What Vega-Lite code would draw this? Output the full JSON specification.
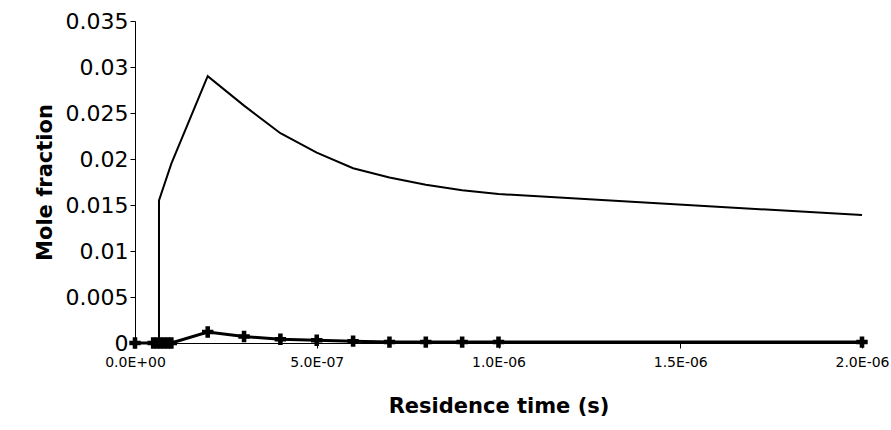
{
  "$schema": "https://vega.github.io/schema/vega-lite/v6.json",
  "width": 891, "height": 430,
  "autosize": {"type": "fit", "contains": "padding"},
  "padding": {"left": 34, "top": 10, "right": 2, "bottom": 14},
  "config": {"font": "DejaVu Sans", "view": {"stroke": null}},
  "datasets": {
    "main": [
      {"t": 0, "y": 0}, {"t": 5e-8, "y": 0}, {"t": 6.6e-8, "y": 0}, {"t": 6.6e-8, "y": 0.0155},
      {"t": 1e-7, "y": 0.0195}, {"t": 2e-7, "y": 0.029}, {"t": 3e-7, "y": 0.0258},
      {"t": 4e-7, "y": 0.0228}, {"t": 5e-7, "y": 0.0207}, {"t": 6e-7, "y": 0.019},
      {"t": 7e-7, "y": 0.018}, {"t": 8e-7, "y": 0.0172}, {"t": 9e-7, "y": 0.0166},
      {"t": 1e-6, "y": 0.0162}, {"t": 2e-6, "y": 0.0139}
    ],
    "minor": [
      {"t": 0, "y": 0}, {"t": 5e-8, "y": 0}, {"t": 6e-8, "y": 0}, {"t": 7e-8, "y": 0},
      {"t": 8e-8, "y": 0}, {"t": 9e-8, "y": 0}, {"t": 1e-7, "y": 0},
      {"t": 2e-7, "y": 0.0012}, {"t": 3e-7, "y": 0.0007}, {"t": 4e-7, "y": 0.0004},
      {"t": 5e-7, "y": 0.0003}, {"t": 6e-7, "y": 0.0002}, {"t": 7e-7, "y": 0.0001},
      {"t": 8e-7, "y": 0.0001}, {"t": 9e-7, "y": 0.0001}, {"t": 1e-6, "y": 0.0001},
      {"t": 2e-6, "y": 0.0001}
    ]
  },
  "encoding": {
    "x": {"field": "t", "type": "quantitative",
      "scale": {"domain": [0, 2e-6], "nice": false},
      "axis": {"title": "Residence time (s)", "labelExpr": "datum.value == 0 ? '0.0E+00' : replace(format(datum.value, '.1e'), 'e-', 'E-0')", "values": [0, 5e-7, 1e-6, 1.5e-6, 2e-6],
        "labelFlush": false, "labelPadding": 7, "grid": false, "labelFontSize": 14, "titleFontSize": 21, "titleFontWeight": "bold", "titlePadding": 26,
        "domainColor": "black", "tickColor": "black", "labelColor": "black", "titleColor": "black"}},
    "y": {"field": "y", "type": "quantitative",
      "scale": {"domain": [0, 0.035], "nice": false},
      "axis": {"title": "Mole fraction", "values": [0, 0.005, 0.01, 0.015, 0.02, 0.025, 0.03, 0.035], "format": "~g",
        "grid": false, "labelFontSize": 22, "titleFontSize": 21, "titleFontWeight": "bold", "titlePadding": 10,
        "domainColor": "black", "tickColor": "black", "labelColor": "black", "titleColor": "black"}}
  },
  "layer": [
    {"data": {"name": "main"}, "mark": {"type": "line", "color": "black", "strokeWidth": 2}},
    {"data": {"name": "minor"}, "mark": {"type": "line", "color": "black", "strokeWidth": 3, "point": {"shape": "cross", "size": 130, "filled": true, "color": "black"}}}
  ]
}
